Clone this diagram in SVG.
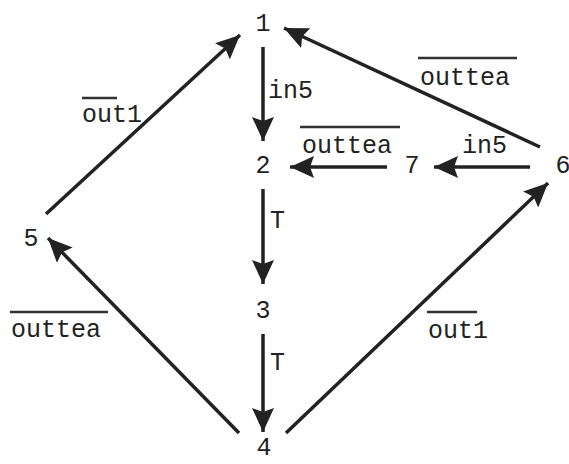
<svg xmlns="http://www.w3.org/2000/svg" width="569" height="464" viewBox="0 0 569 464">
<style>
text{font-family:"Liberation Mono","Courier New",monospace;font-size:25px;fill:#222}
.n{text-anchor:middle}
.e{stroke:#222;stroke-width:3.5;fill:none;marker-end:url(#ah)}
.ov{stroke:#333;stroke-width:2.5}
</style>
<defs>
<marker id="ah" markerUnits="userSpaceOnUse" markerWidth="26" markerHeight="22" refX="24" refY="11" orient="auto">
<path d="M0,0 L24,11 L0,22 L4,11 z" fill="#222"/>
</marker>
</defs>
<rect width="569" height="464" fill="#fff"/>
<g id="connectors">
<line class="e" x1="263" y1="47" x2="263" y2="141"/>
<line class="e" x1="263" y1="189" x2="263" y2="284"/>
<line class="e" x1="263" y1="334" x2="263" y2="432"/>
<line class="e" x1="540" y1="147" x2="284" y2="28"/>
<line class="e" x1="387" y1="167" x2="290" y2="167"/>
<line class="e" x1="530" y1="167" x2="434" y2="167"/>
<line class="e" x1="46" y1="214" x2="240" y2="35"/>
<line class="e" x1="239" y1="433" x2="48" y2="238"/>
<line class="e" x1="286" y1="433" x2="548" y2="183"/>
</g>
<g id="labels">
<text x="268" y="98">in5</text>
<text x="270" y="228">T</text>
<text x="270" y="370">T</text>
<line class="ov" x1="418" y1="58" x2="517" y2="58"/>
<text x="420" y="85">outtea</text>
<line class="ov" x1="300" y1="127" x2="400" y2="127"/>
<text x="302" y="153">outtea</text>
<text x="462" y="153">in5</text>
<line class="ov" x1="82" y1="98" x2="117" y2="98"/>
<text x="82" y="122">out1</text>
<line class="ov" x1="10" y1="312" x2="108" y2="312"/>
<text x="11" y="337">outtea</text>
<line class="ov" x1="427" y1="312" x2="477" y2="312"/>
<text x="428" y="338">out1</text>
</g>
<g id="node1"><text class="n" x="263" y="31">1</text></g>
<g id="node2"><text class="n" x="263" y="173">2</text></g>
<g id="node3"><text class="n" x="263" y="318">3</text></g>
<g id="node4"><text class="n" x="264" y="455">4</text></g>
<g id="node5"><text class="n" x="31" y="246">5</text></g>
<g id="node6"><text class="n" x="563" y="173">6</text></g>
<g id="node7"><text class="n" x="412" y="173">7</text></g>
</svg>
